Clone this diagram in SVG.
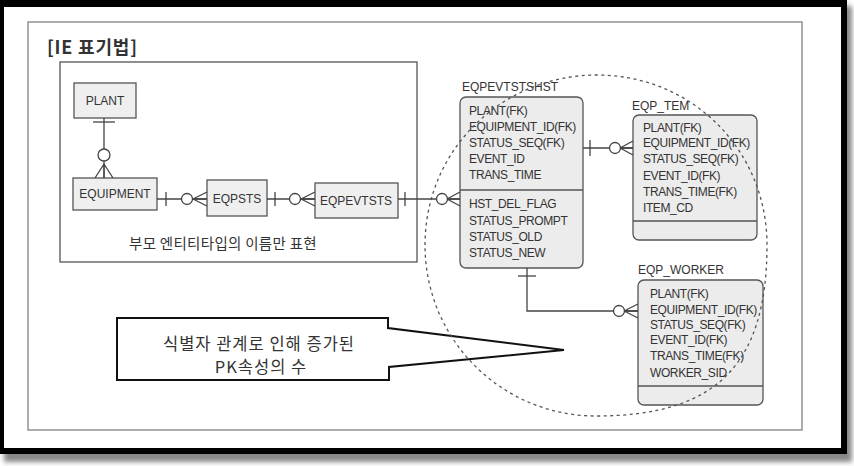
<svg xmlns="http://www.w3.org/2000/svg" width="854" height="466" viewBox="0 0 854 466">
  <defs>
    <filter id="soft" x="-5%" y="-5%" width="110%" height="110%">
      <feGaussianBlur stdDeviation="2.5"/>
    </filter>
    <style>
      .ent{fill:#ececec;stroke:#555;stroke-width:1.3}
      .box{fill:#efefef;stroke:#555;stroke-width:1.3}
      .t{font-family:"Liberation Sans",Arial,sans-serif;font-size:12px;fill:#333}
      .a{font-family:"Liberation Sans",Arial,sans-serif;font-size:12px;fill:#333;letter-spacing:-0.4px}
      .k{font-family:"Noto Sans CJK KR","Liberation Sans",sans-serif;fill:#333}
      .ln{fill:none;stroke:#444;stroke-width:1.3}
      .cf{fill:none;stroke:#444;stroke-width:1.3}
      .ring{fill:#fff;stroke:#444;stroke-width:1.3}
      .div{stroke:#555;stroke-width:1.3}
    </style>
  </defs>

  <!-- page with black frame and drop shadow -->
  <rect width="854" height="466" fill="#fff"/>
  <rect x="4" y="6" width="848" height="456" fill="#888" filter="url(#soft)"/>
  <rect x="0" y="0" width="847" height="454" fill="#000"/>
  <rect x="4" y="7" width="837" height="441" fill="#fff"/>

  <!-- inner sheet border -->
  <rect x="28" y="22" width="774" height="408" fill="none" stroke="#777" stroke-width="1.2"/>

  <text class="k" x="47" y="54" font-size="18" font-weight="bold" letter-spacing="0.8" fill="#222">[IE 표기법]</text>

  <!-- parent-name-only panel -->
  <g id="panel">
    <rect x="60" y="62" width="357" height="200" fill="none" stroke="#555" stroke-width="1.3"/>
    <text class="k" x="223" y="249" font-size="14.5" letter-spacing="0.3" text-anchor="middle">부모 엔티티타입의 이름만 표현</text>
  </g>

  <g id="plant">
    <rect class="box" x="74" y="83" width="62" height="35"/>
    <text class="t" x="105" y="105" text-anchor="middle" font-size="13">PLANT</text>
  </g>
  <g id="equipment">
    <rect class="box" x="73" y="178" width="84" height="32"/>
    <text class="t" x="115" y="198" text-anchor="middle">EQUIPMENT</text>
  </g>
  <g id="eqpsts">
    <rect class="box" x="207" y="180" width="60" height="36"/>
    <text class="t" x="237" y="203" text-anchor="middle">EQPSTS</text>
  </g>
  <g id="eqpevtsts">
    <rect class="box" x="315" y="183" width="83" height="35"/>
    <text class="t" x="356" y="205" text-anchor="middle">EQPEVTSTS</text>
  </g>

  <g id="eqpevtstshst">
    <text class="t" x="462" y="91">EQPEVTSTSHST</text>
    <rect class="ent" x="460" y="97" width="123" height="171" rx="6"/>
    <line class="div" x1="460" y1="190" x2="583" y2="190"/>
    <text class="a" x="469" y="115">PLANT(FK)</text>
    <text class="a" x="469" y="131">EQUIPMENT_ID(FK)</text>
    <text class="a" x="469" y="147">STATUS_SEQ(FK)</text>
    <text class="a" x="469" y="163">EVENT_ID</text>
    <text class="a" x="469" y="179">TRANS_TIME</text>
    <text class="a" x="469" y="208">HST_DEL_FLAG</text>
    <text class="a" x="469" y="225">STATUS_PROMPT</text>
    <text class="a" x="469" y="241">STATUS_OLD</text>
    <text class="a" x="469" y="257">STATUS_NEW</text>
  </g>

  <g id="eqp_tem">
    <text class="t" x="632" y="110">EQP_TEM</text>
    <rect class="ent" x="633" y="115" width="124" height="125" rx="6"/>
    <line class="div" x1="633" y1="221" x2="757" y2="221"/>
    <text class="a" x="643" y="132">PLANT(FK)</text>
    <text class="a" x="643" y="147">EQUIPMENT_ID(FK)</text>
    <text class="a" x="643" y="163">STATUS_SEQ(FK)</text>
    <text class="a" x="643" y="180">EVENT_ID(FK)</text>
    <text class="a" x="643" y="196">TRANS_TIME(FK)</text>
    <text class="a" x="643" y="212">ITEM_CD</text>
  </g>

  <g id="eqp_worker">
    <text class="t" x="638" y="274">EQP_WORKER</text>
    <rect class="ent" x="638" y="280" width="125" height="125" rx="6"/>
    <line class="div" x1="638" y1="386" x2="763" y2="386"/>
    <text class="a" x="650" y="298">PLANT(FK)</text>
    <text class="a" x="650" y="314">EQUIPMENT_ID(FK)</text>
    <text class="a" x="650" y="329">STATUS_SEQ(FK)</text>
    <text class="a" x="650" y="344">EVENT_ID(FK)</text>
    <text class="a" x="650" y="360">TRANS_TIME(FK)</text>
    <text class="a" x="650" y="377">WORKER_SID</text>
  </g>

  <!-- relationships: bar = one, ring + crow's foot = zero or many -->
  <g id="connectors">
    <!-- PLANT to EQUIPMENT -->
    <line class="ln" x1="104" y1="118" x2="104" y2="178"/>
    <line class="ln" x1="93" y1="122" x2="115" y2="122"/>
    <circle class="ring" cx="104" cy="155" r="6"/>
    <path class="cf" d="M104 164 L95 178 M104 164 L104 178 M104 164 L113 178"/>

    <!-- EQUIPMENT to EQPSTS -->
    <line class="ln" x1="157" y1="199" x2="207" y2="199"/>
    <line class="ln" x1="166" y1="192" x2="166" y2="206"/>
    <circle class="ring" cx="187" cy="199" r="5.5"/>
    <path class="cf" d="M193 199 L207 192 M193 199 L207 199 M193 199 L207 206"/>

    <!-- EQPSTS to EQPEVTSTS -->
    <line class="ln" x1="267" y1="199" x2="315" y2="199"/>
    <line class="ln" x1="275" y1="192" x2="275" y2="206"/>
    <circle class="ring" cx="295" cy="199" r="5.5"/>
    <path class="cf" d="M301 199 L315 192 M301 199 L315 199 M301 199 L315 206"/>

    <!-- EQPEVTSTS to EQPEVTSTSHST -->
    <line class="ln" x1="398" y1="199" x2="460" y2="199"/>
    <line class="ln" x1="405" y1="192" x2="405" y2="206"/>
    <circle class="ring" cx="442" cy="199" r="5.5"/>
    <path class="cf" d="M447 199 L460 192 M447 199 L460 199 M447 199 L460 206"/>

    <!-- EQPEVTSTSHST to EQP_TEM -->
    <line class="ln" x1="583" y1="148" x2="633" y2="148"/>
    <line class="ln" x1="590" y1="140" x2="590" y2="156"/>
    <circle class="ring" cx="615" cy="148" r="5.5"/>
    <path class="cf" d="M620 148 L633 141 M620 148 L633 148 M620 148 L633 155"/>

    <!-- EQPEVTSTSHST to EQP_WORKER -->
    <path class="ln" d="M527 268 V311 H638"/>
    <line class="ln" x1="518" y1="276" x2="536" y2="276"/>
    <circle class="ring" cx="619" cy="311" r="5.5"/>
    <path class="cf" d="M624 311 L638 304 M624 311 L638 311 M624 311 L638 318"/>
  </g>

  <!-- callout -->
  <g id="callout">
    <path d="M117 318 H388 V328 L564 350 L389 367 V380 H117 Z" fill="#fff" stroke="#111" stroke-width="2"/>
    <text class="k" x="259" y="350" font-size="16.5" letter-spacing="1" text-anchor="middle">식별자 관계로 인해 증가된</text>
    <text class="k" x="261" y="373" font-size="16.5" letter-spacing="1" text-anchor="middle">PK속성의 수</text>
  </g>

  <!-- dashed grouping ring -->
  <path d="M425 245 C425 150 502 75 597 75 C692 75 767 150 767 245 C767 365 716 416 596 416 C502 416 425 340 425 245 Z"
        fill="none" stroke="#555" stroke-width="1.3" stroke-dasharray="3 3.5"/>
</svg>
